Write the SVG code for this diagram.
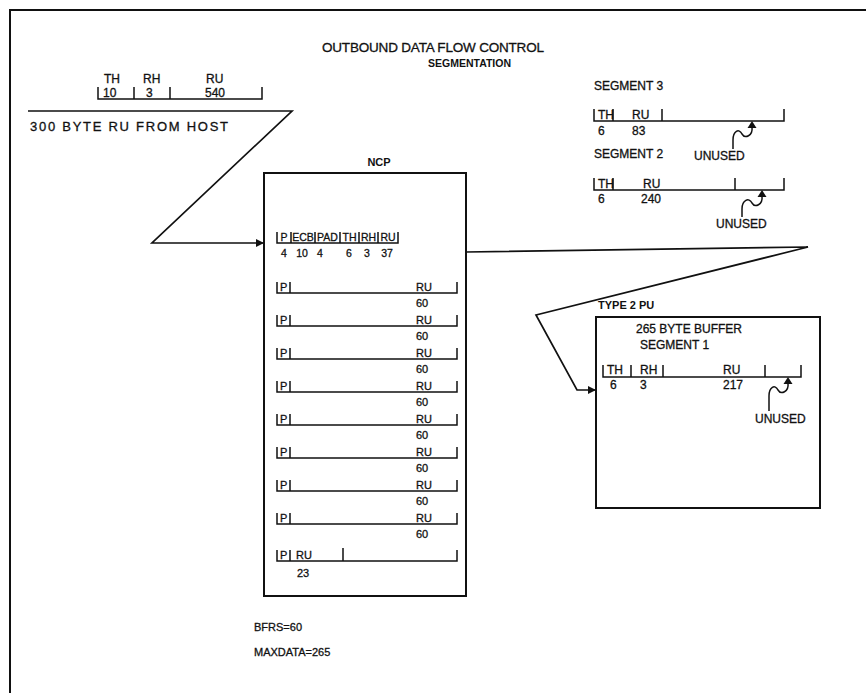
<svg xmlns="http://www.w3.org/2000/svg" width="866" height="693" viewBox="0 0 866 693">
<defs>
<marker id="ah" viewBox="0 0 10 10" refX="10" refY="5" markerWidth="8" markerHeight="8" markerUnits="userSpaceOnUse" orient="auto"><path d="M0,0 L10,5 L0,10 z" fill="#111"/></marker>
<path id="up" d="M0,0 L-4.5,7 L4.5,7 z" fill="#111"/>
</defs>
<style>
text{font-family:"Liberation Sans",Arial,Helvetica,sans-serif;fill:#111;stroke:#111;stroke-width:0.3}
.s10{font-size:10.5px}
.s11{font-size:11px}
.s12{font-size:12px}
.s13{font-size:13px}
.b{font-weight:bold;stroke-width:0}
.m{text-anchor:middle}
.rec{stroke:#111;fill:none;stroke-width:1.5}
.ln{stroke:#111;fill:none;stroke-width:1.7}
.box{stroke:#111;fill:none;stroke-width:2}
</style>
<rect width="866" height="693" fill="#fff"/>
<path d="M10,693 V10 H866" class="box"/>

<g id="title">
<text x="322" y="52" style="font-size:13.5px" textLength="222">OUTBOUND DATA FLOW CONTROL</text>
<text x="428" y="67" class="s10 b">SEGMENTATION</text>
</g>

<g id="host-ru">
<text x="104" y="83" class="s12">TH</text>
<text x="143" y="83" class="s12">RH</text>
<text x="206" y="83" class="s12">RU</text>
<path d="M98,87 V99 H262 V87 M134,87 V99 M170,87 V99" class="rec"/>
<text x="103" y="97" class="s12">10</text>
<text x="146" y="97" class="s12">3</text>
<text x="205" y="97" class="s12">540</text>
<text x="30" y="131" class="s13" textLength="198">300 BYTE RU FROM HOST</text>
</g>

<g id="ncp">
<text x="379" y="166" class="s11 b m">NCP</text>
<rect x="264" y="173" width="202" height="423" class="box"/>
<path d="M277,232 V243 H398 V232 M291,232 V243 M315,232 V243 M340,232 V243 M359,232 V243 M378,232 V243" class="rec"/>
<g class="s10 m">
<text x="284" y="241">P</text><text x="303" y="241">ECB</text><text x="327.5" y="241">PAD</text><text x="349.5" y="241">TH</text><text x="368.5" y="241">RH</text><text x="388" y="241">RU</text>
<text x="284" y="257">4</text><text x="302" y="257">10</text><text x="320" y="257">4</text><text x="349" y="257">6</text><text x="367" y="257">3</text><text x="387" y="257">37</text>
</g>
<path d="M277,282 V293 H457 V282 M290,282 V293
M277,315 V326 H457 V315 M290,315 V326
M277,348 V359 H457 V348 M290,348 V359
M277,381 V392 H457 V381 M290,381 V392
M277,414 V425 H457 V414 M290,414 V425
M277,447 V458 H457 V447 M290,447 V458
M277,480 V491 H457 V480 M290,480 V491
M277,513 V524 H457 V513 M290,513 V524
M277,550 V561 H457 V550 M290,550 V561 M343,548 V561" class="rec"/>
<g class="s11">
<text x="280" y="291">P</text><text x="416" y="291">RU</text><text x="416" y="307">60</text>
<text x="280" y="324">P</text><text x="416" y="324">RU</text><text x="416" y="340">60</text>
<text x="280" y="357">P</text><text x="416" y="357">RU</text><text x="416" y="373">60</text>
<text x="280" y="390">P</text><text x="416" y="390">RU</text><text x="416" y="406">60</text>
<text x="280" y="423">P</text><text x="416" y="423">RU</text><text x="416" y="439">60</text>
<text x="280" y="456">P</text><text x="416" y="456">RU</text><text x="416" y="472">60</text>
<text x="280" y="489">P</text><text x="416" y="489">RU</text><text x="416" y="505">60</text>
<text x="280" y="522">P</text><text x="416" y="522">RU</text><text x="416" y="538">60</text>
<text x="280" y="559">P</text><text x="296" y="559">RU</text><text x="297" y="577">23</text>
</g>
<text x="254" y="631" class="s11">BFRS=60</text>
<text x="254" y="656" class="s11">MAXDATA=265</text>
</g>

<g id="segment3">
<text x="594" y="90" class="s12">SEGMENT 3</text>
<path d="M594,109 V121 H784 V109 M613,109 V121 M662,109 V121" class="rec"/>
<text x="598" y="119" class="s12">TH</text>
<text x="632" y="119" class="s12">RU</text>
<text x="598" y="135" class="s12">6</text>
<text x="632" y="135" class="s12">83</text>
<use href="#up" x="752" y="121"/>
<path d="M752,127 C753,136 745,139 742,134 C739,128 733,131 733,140 V149" class="rec"/>
<text x="694" y="160" class="s12">UNUSED</text>
</g>

<g id="segment2">
<text x="594" y="158" class="s12">SEGMENT 2</text>
<path d="M594,178 V190 H784 V178 M613,178 V190 M735,178 V190" class="rec"/>
<text x="598" y="188" class="s12">TH</text>
<text x="643" y="188" class="s12">RU</text>
<text x="598" y="203" class="s12">6</text>
<text x="641" y="203" class="s12">240</text>
<use href="#up" x="762" y="190"/>
<path d="M762,196 C763,205 755,208 752,203 C749,197 742,200 742,209 V217" class="rec"/>
<text x="716" y="228" class="s12">UNUSED</text>
</g>

<g id="type2pu">
<text x="598" y="309" class="s11 b">TYPE 2 PU</text>
<rect x="596" y="317" width="224" height="191" class="box"/>
<text x="636" y="333" class="s12">265 BYTE BUFFER</text>
<text x="640" y="349" class="s12">SEGMENT 1</text>
<path d="M603,365 V377 H801 V365 M631,365 V377 M663,365 V377 M765,365 V377" class="rec"/>
<text x="607" y="374" class="s12">TH</text>
<text x="640" y="374" class="s12">RH</text>
<text x="723" y="374" class="s12">RU</text>
<text x="610" y="389" class="s12">6</text>
<text x="640" y="389" class="s12">3</text>
<text x="723" y="389" class="s12">217</text>
<use href="#up" x="788" y="377"/>
<path d="M788,383 C789,392 781,395 778,390 C775,384 769,387 769,396 V411" class="rec"/>
<text x="755" y="423" class="s12">UNUSED</text>
</g>

<g id="connectors">
<path d="M28,111 H292 L152,243 H264" class="ln" marker-end="url(#ah)"/>
<path d="M466,252 L808,247 L536,315 L577,390 H596" class="ln" marker-end="url(#ah)"/>
</g>
</svg>
